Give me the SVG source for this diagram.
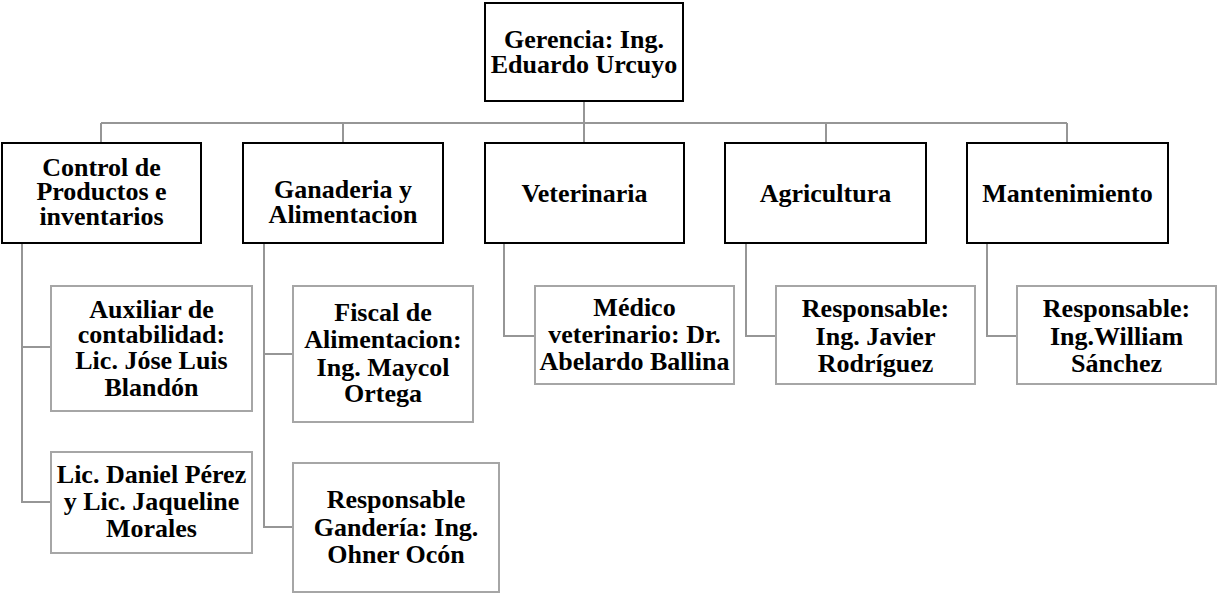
<svg xmlns="http://www.w3.org/2000/svg" width="1218" height="594" viewBox="0 0 1218 594">
<style>
.main{fill:#fff;stroke:#000;stroke-width:2}
.sub{fill:#fff;stroke:#a6a6a6;stroke-width:2}
.conn{fill:none;stroke:#969696;stroke-width:2}
text{font-family:"Liberation Serif","Times New Roman",serif;font-weight:bold;font-size:26px;fill:#000;text-anchor:middle}
</style>
<rect width="1218" height="594" fill="#fff"/>
<g id="connectors">
<path class="conn" d="M584,101 V143 M101,123 H1067 M101,123 V143 M343,123 V143 M826,123 V143 M1067,123 V143"/>
<path class="conn" d="M22,243 V502 H51 M22,347 H51"/>
<path class="conn" d="M264,243 V527 H293 M264,354 H293"/>
<path class="conn" d="M504,243 V336 H535"/>
<path class="conn" d="M746,243 V336 H776"/>
<path class="conn" d="M987,243 V336 H1017"/>
</g>
<g id="gerencia">
<rect class="main" x="485" y="3" width="198" height="98"/>
<text x="584" y="48">Gerencia: Ing.</text>
<text x="584" y="73">Eduardo Urcuyo</text>
</g>
<g id="control">
<rect class="main" x="2" y="143" width="199" height="100"/>
<text x="101.5" y="176">Control de</text>
<text x="101.5" y="200">Productos e</text>
<text x="101.5" y="225">inventarios</text>
</g>
<g id="ganaderia">
<rect class="main" x="243" y="143" width="200" height="100"/>
<text x="343" y="198">Ganaderia y</text>
<text x="343" y="223">Alimentacion</text>
</g>
<g id="veterinaria">
<rect class="main" x="485" y="143" width="199" height="100"/>
<text x="584.5" y="202">Veterinaria</text>
</g>
<g id="agricultura">
<rect class="main" x="725" y="143" width="201" height="100"/>
<text x="825.5" y="202">Agricultura</text>
</g>
<g id="mantenimiento">
<rect class="main" x="967" y="143" width="201" height="100"/>
<text x="1067.5" y="202">Mantenimiento</text>
</g>
<g id="auxiliar">
<rect class="sub" x="51" y="286" width="201" height="125"/>
<text x="151.5" y="318">Auxiliar de</text>
<text x="151.5" y="343">contabilidad:</text>
<text x="151.5" y="369">Lic. Jóse Luis</text>
<text x="151.5" y="396">Blandón</text>
</g>
<g id="daniel">
<rect class="sub" x="51" y="452" width="201" height="101"/>
<text x="151.5" y="483">Lic. Daniel Pérez</text>
<text x="151.5" y="510">y Lic. Jaqueline</text>
<text x="151.5" y="537">Morales</text>
</g>
<g id="fiscal">
<rect class="sub" x="293" y="286" width="180" height="136"/>
<text x="383" y="321">Fiscal de</text>
<text x="383" y="348">Alimentacion:</text>
<text x="383" y="376">Ing. Maycol</text>
<text x="383" y="402">Ortega</text>
</g>
<g id="responsable-ganaderia">
<rect class="sub" x="293" y="463" width="206" height="129"/>
<text x="396" y="508">Responsable</text>
<text x="396" y="536">Gandería: Ing.</text>
<text x="396" y="563">Ohner Ocón</text>
</g>
<g id="medico">
<rect class="sub" x="535" y="286" width="199" height="98"/>
<text x="634.5" y="316">Médico</text>
<text x="634.5" y="343">veterinario: Dr.</text>
<text x="634.5" y="370">Abelardo Ballina</text>
</g>
<g id="javier">
<rect class="sub" x="776" y="286" width="199" height="98"/>
<text x="875.5" y="317">Responsable:</text>
<text x="875.5" y="345">Ing. Javier</text>
<text x="875.5" y="372">Rodríguez</text>
</g>
<g id="william">
<rect class="sub" x="1017" y="286" width="199" height="98"/>
<text x="1116.5" y="317">Responsable:</text>
<text x="1116.5" y="345">Ing.William</text>
<text x="1116.5" y="372">Sánchez</text>
</g>
</svg>
